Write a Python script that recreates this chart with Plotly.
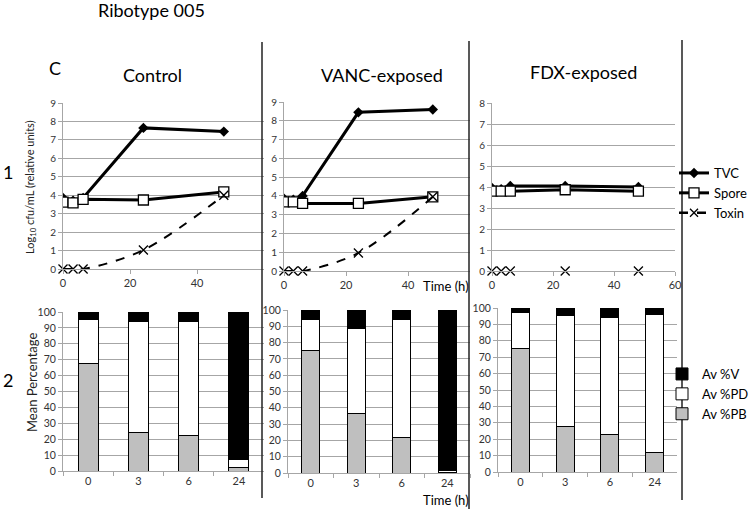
import plotly.graph_objects as go

# time course (hours) for the top row
hours = [0, 3, 6, 24, 48]
ctrl_tvc = [3.85, 3.7, 3.85, 7.65, 7.45]
ctrl_spore = [3.63, 3.58, 3.78, 3.74, 4.18]
ctrl_toxin = [0, 0, 0, 1.03, 4.0]
vanc_tvc = [3.85, 3.8, 4.0, 8.45, 8.6]
vanc_spore = [3.68, 3.68, 3.6, 3.6, 3.95]
vanc_toxin = [0, 0, 0, 0.96, 3.95]
fdx_tvc = [3.95, 3.9, 4.05, 4.05, 4.0]
fdx_spore = [3.8, 3.8, 3.8, 3.87, 3.8]
fdx_toxin = [0, 0, 0, 0, 0]

# mean percentages for the bottom row
bar_times = ["0", "3", "6", "24"]
ctrl_pb = [67.5, 24.5, 22.5, 2.5]
ctrl_pd = [27.5, 69.5, 71.5, 4.5]
ctrl_v = [5, 6, 6, 93]
vanc_pb = [75, 36.5, 21.5, 0.4]
vanc_pd = [19, 52, 72.5, 1.1]
vanc_v = [6, 11.5, 6, 98.5]
fdx_pb = [75.5, 28, 23, 12]
fdx_pd = [21.5, 67.5, 71, 84]
fdx_v = [3, 4.5, 6, 4]

W, H = 750, 509
FONT = "Lato, Open Sans, sans-serif"
GRID = "#a6a6a6"


def dx(a, b):
    return [a / W, b / W]


def dy(bottom, top):
    return [1 - bottom / H, 1 - top / H]


fig = go.Figure()

line_sets = [
    (ctrl_tvc, ctrl_spore, ctrl_toxin, "x", "y", True),
    (vanc_tvc, vanc_spore, vanc_toxin, "x2", "y2", True),
    (fdx_tvc, fdx_spore, fdx_toxin, "x3", "y3", False),
]
for i, (tvc, spore, tox, xa, ya, tox_line) in enumerate(line_sets):
    first = i == 0
    fig.add_trace(go.Scatter(x=hours, y=tvc, name="TVC", xaxis=xa, yaxis=ya,
                             mode="lines+markers",
                             line=dict(color="black", width=3),
                             marker=dict(symbol="diamond", size=8, color="black"),
                             showlegend=first, legendrank=1))
    fig.add_trace(go.Scatter(x=hours, y=spore, name="Spore", xaxis=xa, yaxis=ya,
                             mode="lines+markers",
                             line=dict(color="black", width=3),
                             marker=dict(symbol="square", size=10, color="white",
                                         line=dict(color="black", width=1.3)),
                             showlegend=first, legendrank=2))
    fig.add_trace(go.Scatter(x=hours, y=tox, name="Toxin", xaxis=xa, yaxis=ya,
                             mode="lines+markers" if tox_line else "markers",
                             line=dict(color="black", width=2, dash="dash", shape="spline"),
                             marker=dict(symbol="x-thin", size=9, line=dict(color="black", width=1.3)),
                             cliponaxis=False, showlegend=False))
    if first:
        # legend entry for toxin (with dashed line)
        fig.add_trace(go.Scatter(x=[None], y=[None], name="Toxin", xaxis=xa, yaxis=ya,
                                 mode="lines+markers",
                                 line=dict(color="black", width=2.5, dash="dash"),
                                 marker=dict(symbol="x-thin", size=8, line=dict(color="black", width=1.3)),
                                 legendrank=3))

bar_sets = [
    (ctrl_pb, ctrl_pd, ctrl_v, "x4", "y4"),
    (vanc_pb, vanc_pd, vanc_v, "x5", "y5"),
    (fdx_pb, fdx_pd, fdx_v, "x6", "y6"),
]
for i, (pb, pd_, v, xa, ya) in enumerate(bar_sets):
    first = i == 0
    for name, vals, col, rank in [("Av %PB", pb, "#bfbfbf", 3),
                                  ("Av %PD", pd_, "white", 2),
                                  ("Av %V", v, "black", 1)]:
        fig.add_trace(go.Bar(x=bar_times, y=vals, name=name, xaxis=xa, yaxis=ya,
                             marker=dict(color=col, line=dict(color="black", width=1)),
                             showlegend=first, legend="legend2", legendrank=rank))

axis_common = dict(showline=True, linecolor=GRID, gridcolor=GRID, ticks="outside",
                   tickcolor=GRID, ticklen=4, zeroline=False, fixedrange=True,
                   automargin=False, ticklabeloverflow="allow")

top = [
    ("xaxis", "yaxis", "x", "y", 63, 264, 269, 103, 9, [0, 20, 40]),
    ("xaxis2", "yaxis2", "x2", "y2", 284, 470, 271, 102, 9, [0, 20, 40]),
    ("xaxis3", "yaxis3", "x3", "y3", 492, 675, 271, 103, 8, [0, 20, 40, 60]),
]
for xk, yk, xn, yn, x0, x1, y0, y1, ymax, tv in top:
    fig.layout[xk] = dict(axis_common, domain=dx(x0, x1), range=[0, 60], anchor=yn,
                          tickvals=tv, showgrid=False, tickfont=dict(size=11, color="#333"))
    fig.layout[yk] = dict(axis_common, domain=dy(y0, y1), range=[0, ymax], anchor=xn,
                          dtick=1, showgrid=True, tickfont=dict(size=10, color="#333"))

bottom = [
    ("xaxis4", "yaxis4", "x4", "y4", 63, 264, 471, 312),
    ("xaxis5", "yaxis5", "x5", "y5", 288, 470, 473, 310),
    ("xaxis6", "yaxis6", "x6", "y6", 498, 677, 472, 308),
]
for xk, yk, xn, yn, x0, x1, y0, y1 in bottom:
    fig.layout[xk] = dict(axis_common, domain=dx(x0, x1), anchor=yn, type="category",
                          tickson="boundaries", showgrid=False,
                          tickfont=dict(size=11, color="#333"))
    fig.layout[yk] = dict(axis_common, domain=dy(y0, y1), range=[0, 100], anchor=xn,
                          dtick=10, showgrid=True, tickfont=dict(size=10.5, color="#333"))

annots = [
    dict(text="Ribotype 005", x=151, y=10, size=18),
    dict(text="C", x=55, y=68, size=18),
    dict(text="Control", x=152, y=75, size=18),
    dict(text="VANC-exposed", x=382, y=75, size=18),
    dict(text="FDX-exposed", x=583, y=72, size=18),
    dict(text="1", x=8, y=172, size=18),
    dict(text="2", x=8, y=380, size=18),
    dict(text="Time (h)", x=446, y=286, size=13),
    dict(text="Time (h)", x=446, y=500, size=13),
]
for a in annots:
    fig.add_annotation(text=a["text"], x=a["x"] / W, y=1 - a["y"] / H, xref="paper", yref="paper",
                       showarrow=False, xanchor="center", yanchor="middle",
                       font=dict(size=a["size"], color="black", family=FONT))
fig.add_annotation(text="Log<sub>10</sub> cfu/mL (relative units)", x=31 / W, y=1 - 187 / H,
                   xref="paper", yref="paper", showarrow=False, textangle=-90,
                   xanchor="center", yanchor="middle",
                   font=dict(size=11, color="#222", family=FONT))
fig.add_annotation(text="Mean Percentage", x=32 / W, y=1 - 383 / H,
                   xref="paper", yref="paper", showarrow=False, textangle=-90,
                   xanchor="center", yanchor="middle",
                   font=dict(size=13, color="#222", family=FONT))

for xs, ytop, ybot in [(262, 42, 498), (469, 41, 509), (682, 40, 500)]:
    fig.add_shape(type="line", xref="paper", yref="paper", x0=xs / W, x1=xs / W,
                  y0=1 - ytop / H, y1=1 - ybot / H, line=dict(color="#222", width=1.5))

fig.update_layout(
    width=W, height=H, margin=dict(l=0, r=0, t=0, b=0, autoexpand=False),
    paper_bgcolor="white", plot_bgcolor="white",
    font=dict(family=FONT, color="black"),
    barmode="stack", bargap=0.6,
    legend=dict(x=674 / W, y=1 - 158 / H, xanchor="left", yanchor="top",
                font=dict(size=13), itemwidth=30, bgcolor="rgba(0,0,0,0)",
                traceorder="normal"),
    legend2=dict(x=662 / W, y=1 - 359 / H, xanchor="left", yanchor="top",
                 font=dict(size=13), itemwidth=30, bgcolor="rgba(0,0,0,0)",
                 traceorder="normal"),
)

# page body has a default 8px margin; drop it so the figure sits at the window corner
fig.write_html("out.html", config={"displayModeBar": False},
               post_script="document.body.style.margin='0px';")
